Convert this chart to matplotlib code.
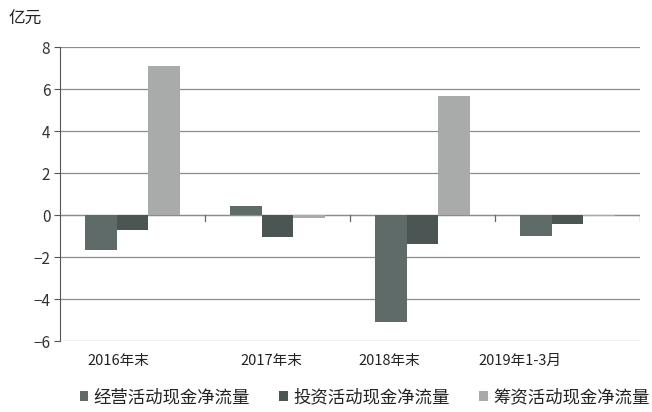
import matplotlib.pyplot as plt
import matplotlib.transforms as mtransforms
import numpy as np

plt.rcParams['font.family'] = ['Noto Sans CJK SC', 'DejaVu Sans']

periods = ['2016年末', '2017年末', '2018年末', '2019年1-3月']
operating = [-1.65, 0.43, -5.1, -1.02]
investing = [-0.72, -1.03, -1.38, -0.42]
financing = [7.1, -0.15, 5.67, -0.05]
series_names = ['经营活动现金净流量', '投资活动现金净流量', '筹资活动现金净流量']
colors = ['#5f6b69', '#4b5553', '#a9aaaa']

fig = plt.figure(figsize=(6.52, 4.12), dpi=100)
ax = fig.add_axes([60 / 652, 71 / 412, 580 / 652, 294 / 412])

x = np.arange(len(periods))
w = 0.22
for i, (vals, name, c) in enumerate(zip([operating, investing, financing], series_names, colors)):
    ax.bar(x + (i - 1) * w, vals, w, color=c, label=name, zorder=3)

ax.set_xlim(-0.5, len(periods) - 0.5)
ax.set_ylim(-6, 8)
ax.set_yticks(range(-6, 9, 2))
ax.yaxis.grid(True, color='#8c8c8c', linewidth=0.9)
ax.axhline(0, color='#8c8c8c', linewidth=0.9, zorder=2)
ax.set_axisbelow(True)
for s in ['top', 'right', 'bottom']:
    ax.spines[s].set_visible(False)
ax.spines['left'].set_color('#555555')
ax.tick_params(axis='y', length=4, color='#555555', labelsize=11, colors='#333333', pad=3)

# category labels sit along the bottom, small separators on the zero line
ax.set_xticks(x)
ax.set_xticklabels(periods, fontsize=10.5, color='#222222')
ax.tick_params(axis='x', length=0, pad=9)
shifts = [-14, -6, -33, -48]
for lbl, dx in zip(ax.get_xticklabels(), shifts):
    lbl.set_transform(lbl.get_transform() + mtransforms.ScaledTranslation(dx / 100, 0, fig.dpi_scale_trans))
for b in np.arange(0.5, len(periods) - 0.4, 1.0):
    ax.plot([b, b], [0, -0.3], color='#666666', linewidth=0.9, zorder=2)

fig.text(8 / 652, 1 - 19 / 412, '亿元', fontsize=12, color='#222222', va='center')

ax.legend(loc='upper center', bbox_to_anchor=(0.525, -0.16), ncol=3, frameon=False,
          fontsize=12.5, handlelength=0.5, handleheight=0.5, handletextpad=0.3,
          columnspacing=1.7, labelcolor='#222222', borderaxespad=0, borderpad=0)

fig.savefig('out.png', dpi=100)
